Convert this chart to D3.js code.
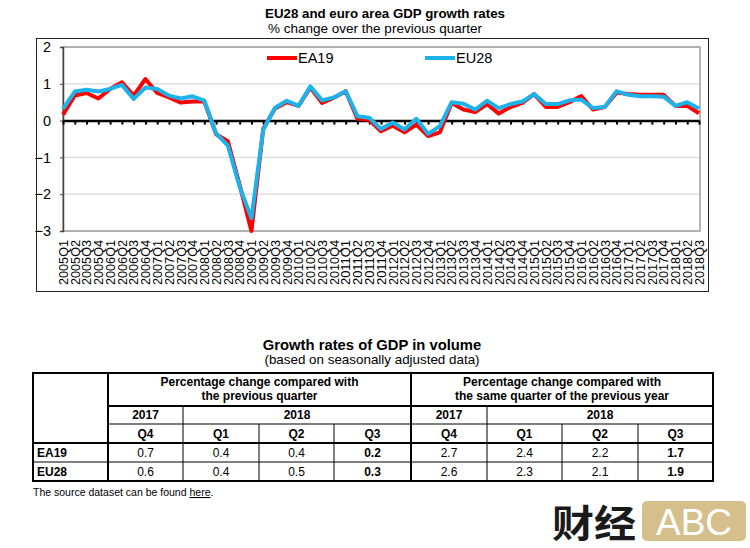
<!DOCTYPE html>
<html>
<head>
<meta charset="utf-8">
<script src="https://cdn.jsdelivr.net/npm/d3@7"></script>
<style>
  body { margin: 0; background: #fff; }
  svg { display: block; font-family: "Liberation Sans", Arial, sans-serif; }
</style>
</head>
<body>
<svg id="chart" width="750" height="548"></svg>
<script>
// quarters on the x axis
const quarters = [
  "2005Q1","2005Q2","2005Q3","2005Q4","2006Q1","2006Q2","2006Q3","2006Q4",
  "2007Q1","2007Q2","2007Q3","2007Q4","2008Q1","2008Q2","2008Q3","2008Q4",
  "2009Q1","2009Q2","2009Q3","2009Q4","2010Q1","2010Q2","2010Q3","2010Q4",
  "2011Q1","2011Q2","2011Q3","2011Q4","2012Q1","2012Q2","2012Q3","2012Q4",
  "2013Q1","2013Q2","2013Q3","2013Q4","2014Q1","2014Q2","2014Q3","2014Q4",
  "2015Q1","2015Q2","2015Q3","2015Q4","2016Q1","2016Q2","2016Q3","2016Q4",
  "2017Q1","2017Q2","2017Q3","2017Q4","2018Q1","2018Q2","2018Q3"
]

// % change over previous quarter
const ea19 = [
  0.16,0.68,0.75,0.60, 0.86,1.04,0.68,1.13,
  0.75,0.63,0.49,0.52, 0.52,-0.37,-0.56,-1.75,
  -3.0,-0.22,0.33,0.50, 0.40,0.90,0.48,0.62,
  0.80,0.05,0.02,-0.29, -0.14,-0.32,-0.11,-0.42,
  -0.32,0.48,0.30,0.23, 0.45,0.19,0.37,0.48,
  0.72,0.37,0.37,0.50, 0.67,0.30,0.37,0.76,
  0.72,0.70,0.70,0.70, 0.40,0.40,0.20
]
const eu28 = [
  0.32,0.79,0.84,0.79, 0.86,0.97,0.59,0.90,
  0.86,0.68,0.60,0.66, 0.54,-0.35,-0.68,-1.80,
  -2.65,-0.25,0.35,0.54, 0.40,0.93,0.55,0.63,
  0.80,0.12,0.08,-0.23, -0.05,-0.24,0.05,-0.36,
  -0.15,0.50,0.46,0.30, 0.54,0.34,0.45,0.52,
  0.72,0.45,0.45,0.55, 0.57,0.34,0.37,0.80,
  0.70,0.66,0.66,0.65, 0.40,0.50,0.33
]
const yTicks = [2, 1, 0, -1, -2, -3]

// table data
const groupHeads = [["Percentage change compared with", "the previous quarter"],
                    ["Percentage change compared with", "the same quarter of the previous year"]]
const tableYears = ["2017", "2018"]
const tableQuarters = ["Q4", "Q1", "Q2", "Q3"]
const rowNames = ["EA19", "EU28"]
const qoqValues = [[0.7, 0.4, 0.4, 0.2], [0.6, 0.4, 0.5, 0.3]]
const yoyValues = [[2.7, 2.4, 2.2, 1.7], [2.6, 2.3, 2.1, 1.9]]

const RED = "#ff0000"
const BLUE = "#1cb2ea"

const svg = d3.select("#chart")

// ---- line chart ----
svg.append("text").attr("x", 385).attr("y", 18).attr("text-anchor", "middle")
  .attr("font-size", 13.3).attr("font-weight", "bold").text("EU28 and euro area GDP growth rates")
svg.append("text").attr("x", 375).attr("y", 33).attr("text-anchor", "middle")
  .attr("font-size", 13.5).text("% change over the previous quarter")

svg.append("rect").attr("x", 36.5).attr("y", 38.5).attr("width", 672).attr("height", 253)
  .attr("fill", "none").attr("stroke", "#222").attr("stroke-width", 1)

const x = d3.scalePoint().domain(quarters).range([63, 699])
const y = d3.scaleLinear().domain([-3, 2]).range([231, 47])

// grid
svg.append("g").selectAll("line").data(yTicks).join("line")
  .attr("x1", 63).attr("x2", 700).attr("y1", d => y(d)).attr("y2", d => y(d))
  .attr("stroke", "#d9d9d9").attr("stroke-width", 1.3)

// plot area border
svg.append("rect").attr("x", 63).attr("y", y(2)).attr("width", 637).attr("height", y(-3) - y(2))
  .attr("fill", "none").attr("stroke", "#a0a0a0").attr("stroke-width", 1.5)

// y axis
const yAxis = svg.append("g").attr("transform", "translate(63,0)")
  .call(d3.axisLeft(y).tickValues(yTicks).tickSize(3).tickFormat(d3.format("d")))
yAxis.select(".domain").attr("stroke", "#444").attr("stroke-width", 1.5)
yAxis.selectAll(".tick line").attr("stroke", "#444")
yAxis.selectAll("text").attr("font-size", 14.5).attr("fill", "#000")
  .attr("font-family", "Liberation Sans, Arial, sans-serif").attr("x", -12)

// zero line with category ticks
const zeroAxis = svg.append("g").attr("transform", `translate(0,${y(0)})`)
  .call(d3.axisBottom(x).tickSize(4).tickFormat("").tickSizeOuter(0))
zeroAxis.select(".domain").attr("stroke", "#000").attr("stroke-width", 2.5)
zeroAxis.selectAll(".tick line").attr("stroke", "#000").attr("stroke-width", 2)

// category labels
const catAxis = svg.append("g").attr("transform", `translate(0,${y(-3)})`)
  .call(d3.axisBottom(x).tickSize(0).tickSizeOuter(0))
catAxis.select(".domain").remove()
catAxis.selectAll("text")
  .attr("font-size", 12).attr("fill", "#000")
  .attr("font-family", "Liberation Sans, Arial, sans-serif")
  .attr("transform", "rotate(-90)")
  .attr("text-anchor", "end")
  .attr("x", -9).attr("y", 0).attr("dy", "0.36em")
  .attr("textLength", 45).attr("lengthAdjust", "spacingAndGlyphs")

// series lines
const line = d3.line().x((d, i) => x(quarters[i])).y(d => y(d))
svg.append("path").datum(ea19).attr("d", line)
  .attr("fill", "none").attr("stroke", RED).attr("stroke-width", 4).attr("stroke-linejoin", "round")
svg.append("path").datum(eu28).attr("d", line)
  .attr("fill", "none").attr("stroke", BLUE).attr("stroke-width", 4).attr("stroke-linejoin", "round")

// legend
const legend = [{name: "EA19", color: RED, x: 267}, {name: "EU28", color: BLUE, x: 425}]
const lg = svg.append("g").selectAll("g").data(legend).join("g")
  .attr("transform", d => `translate(${d.x},58)`)
lg.append("line").attr("x1", 0).attr("x2", 30).attr("stroke", d => d.color).attr("stroke-width", 4)
lg.append("text").attr("x", 31).attr("y", 5).attr("font-size", 14.5).text(d => d.name)

// ---- table ----
svg.append("text").attr("x", 372).attr("y", 350).attr("text-anchor", "middle")
  .attr("font-size", 14.8).attr("font-weight", "bold").text("Growth rates of GDP in volume")
svg.append("text").attr("x", 372).attr("y", 364).attr("text-anchor", "middle")
  .attr("font-size", 13.4).text("(based on seasonally adjusted data)")

const tx = [33, 108, 183, 259, 334, 411, 487, 562, 638, 713]
const ty = [373, 406, 424, 443, 462, 481]
const tb = svg.append("g")

function hline(x1, x2, yy, w) {
  tb.append("line").attr("x1", x1).attr("x2", x2).attr("y1", yy).attr("y2", yy)
    .attr("stroke", "#000").attr("stroke-width", w)
}
function vline(xx, y1, y2, w) {
  tb.append("line").attr("x1", xx).attr("x2", xx).attr("y1", y1).attr("y2", y2)
    .attr("stroke", "#000").attr("stroke-width", w)
}

hline(tx[1], tx[9], ty[1], 2)
hline(tx[1], tx[9], ty[2], 1)
hline(tx[0], tx[9], ty[3], 2)
hline(tx[0], tx[9], ty[4], 1)
vline(tx[1], ty[0], ty[5], 2)
vline(tx[5], ty[0], ty[5], 2)
vline(tx[2], ty[1], ty[5], 1)
vline(tx[6], ty[1], ty[5], 1)
for (const i of [3, 4, 7, 8]) vline(tx[i], ty[2], ty[5], 1)
tb.append("rect").attr("x", tx[0]).attr("y", ty[0]).attr("width", tx[9] - tx[0]).attr("height", ty[5] - ty[0])
  .attr("fill", "none").attr("stroke", "#000").attr("stroke-width", 2)

const cell = (cx, cy, txt, bold, anchor = "middle", size = 12) =>
  tb.append("text").attr("x", cx).attr("y", cy).attr("text-anchor", anchor)
    .attr("font-size", size).attr("font-weight", bold ? "bold" : "normal").text(txt)

groupHeads.forEach((lines, g) => {
  const cx = (tx[1 + g * 4] + tx[5 + g * 4]) / 2
  cell(cx, 386, lines[0], true)
  cell(cx, 400, lines[1], true)
  cell((tx[1 + g * 4] + tx[2 + g * 4]) / 2, 419, tableYears[0], true)
  cell((tx[2 + g * 4] + tx[5 + g * 4]) / 2, 419, tableYears[1], true)
  tableQuarters.forEach((q, k) => {
    cell((tx[1 + g * 4 + k] + tx[2 + g * 4 + k]) / 2, 438, q, true)
  })
})
rowNames.forEach((name, r) => {
  const cy = ty[3 + r] + 14
  cell(37, cy, name, true, "start")
  const vals = [...qoqValues[r], ...yoyValues[r]]
  vals.forEach((v, k) => {
    cell((tx[1 + k] + tx[2 + k]) / 2, cy, v.toFixed(1), k === 3 || k === 7)
  })
})

const src = svg.append("text").attr("x", 33).attr("y", 496).attr("font-size", 10.5)
src.append("tspan").text("The source dataset can be found ")
src.append("tspan").attr("text-decoration", "underline").text("here")
src.append("tspan").text(".")

// watermark
svg.append("text").attr("x", 552).attr("y", 537).attr("font-size", 38).attr("font-weight", "bold")
  .attr("font-family", "Noto Sans CJK SC").attr("fill", "#1a1a1a").attr("textLength", 84)
  .attr("lengthAdjust", "spacingAndGlyphs").text("财经")
svg.append("rect").attr("x", 642).attr("y", 501).attr("width", 104).attr("height", 40).attr("rx", 5)
  .attr("fill", "#d5c08b")
svg.append("text").attr("x", 694).attr("y", 535).attr("text-anchor", "middle").attr("font-size", 37)
  .attr("fill", "#fff").text("ABC")
</script>
</body>
</html>
